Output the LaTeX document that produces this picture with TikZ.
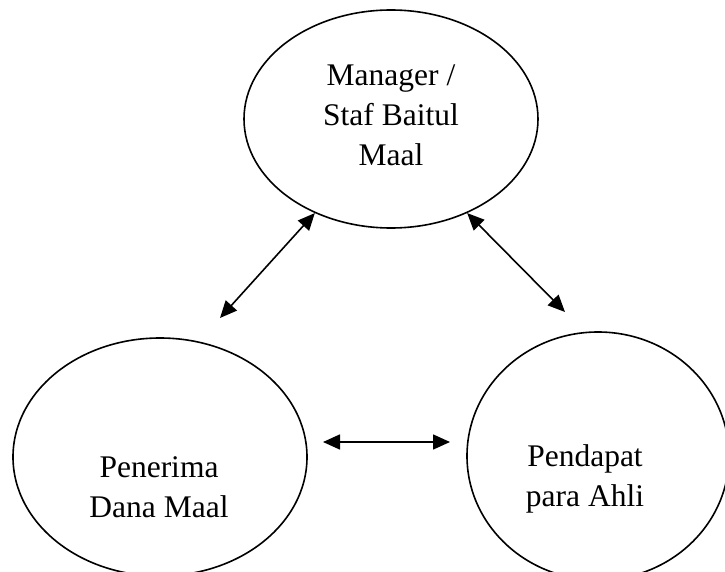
\documentclass[tikz,border=0pt]{standalone}
\usepackage{fontspec}
\setmainfont{Liberation Serif}
\usetikzlibrary{arrows.meta,shapes.geometric,positioning}
\begin{document}
\begin{tikzpicture}[x=1pt,y=-1pt,
        oval/.style={draw,ellipse,line width=1.6pt,inner sep=0pt},
        txt/.style={align=center,inner sep=0pt,font=\fontsize{31.5}{40}\selectfont},
        duaarah/.style={{Triangle[length=17pt,width=15pt]}-{Triangle[length=17pt,width=15pt]},line width=1.6pt}]
                \useasboundingbox (0,0) rectangle (725,572);
                \node [oval,minimum width=294,minimum height=218] (manager) at (391,119) {};
                \node [txt] (managertxt) at (391,115) {Manager /\\Staf Baitul\\Maal};
                \node [oval,minimum width=294,minimum height=238] (penerima) at (160,457) {};
                \node [txt] (penerimatxt) at (159,487) {Penerima\\Dana Maal};
                \node [oval,minimum width=262,minimum height=248] (pendapat) at (598,456) {};
                \node [txt] (pendapattxt) at (585,479) {Pendapat\\para Ahli};
                % ujung panah yang bebas
                \coordinate (kiri) at (220,318);
                \coordinate (kanan) at (565,312);
                \coordinate (tengahkiri) at (323,442);
                \coordinate (tengahkanan) at (450,442);
                \draw [duaarah] (manager.-129) -- (kiri);
                \draw [duaarah] (manager.-51) -- (kanan);
                \draw [duaarah] (tengahkiri) -- (tengahkanan);
\end{tikzpicture}
\end{document}
